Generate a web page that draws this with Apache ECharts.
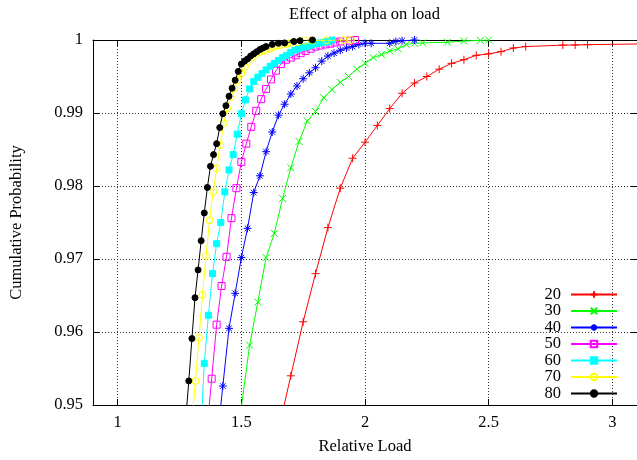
<!DOCTYPE html>
<html><head><meta charset="utf-8">
<script src="https://cdn.jsdelivr.net/npm/echarts@6/dist/echarts.min.js"></script>
<style>html,body{margin:0;padding:0;background:#fff}#c{width:637px;height:460px}</style>
</head><body><div id="c"></div>
<script>
// ---- data ----
const seriesNames = ['20', '30', '40', '50', '60', '70', '80'];

const alpha20 = [[1.65,0.9466],[1.70,0.9540],[1.75,0.9614],[1.80,0.9680],[1.85,0.9743],[1.90,0.9797],[1.95,0.9838],[2.00,0.9860],[2.05,0.9883],[2.10,0.9906],[2.15,0.9927],[2.20,0.9941],[2.25,0.9950],[2.30,0.9960],[2.35,0.9968],[2.40,0.9973],[2.45,0.9979],[2.50,0.9981],[2.55,0.9984],[2.60,0.9989],[2.65,0.9991],[2.80,0.9993],[2.85,0.99932],[2.90,0.99936],[3.30,0.99955]];

const alpha30 = [[1.5000,0.9497],[1.5333,0.9582],[1.5667,0.9641],[1.6000,0.9702],[1.6333,0.9735],[1.6667,0.9783],[1.7000,0.9825],[1.7333,0.9861],[1.7667,0.9889],[1.8000,0.9902],[1.8333,0.9921],[1.8667,0.9932],[1.9000,0.9942],[1.9333,0.9950],[1.9667,0.9960],[2.0000,0.9968],[2.0333,0.9976],[2.0667,0.9980],[2.1000,0.9985],[2.1333,0.9988],[2.1667,0.9994],[2.2000,0.99955],[2.2333,0.9996],[2.3333,0.99969],[2.4000,0.99986],[2.4667,0.99995],[2.5000,1.0]];

const alpha40 = [[1.400,0.9444],[1.425,0.9526],[1.450,0.9605],[1.475,0.9653],[1.500,0.9702],[1.525,0.9742],[1.550,0.9791],[1.575,0.9814],[1.600,0.9847],[1.625,0.9874],[1.650,0.9897],[1.675,0.9912],[1.700,0.9926],[1.725,0.9937],[1.750,0.9947],[1.775,0.9955],[1.800,0.9962],[1.825,0.9971],[1.850,0.9978],[1.875,0.9982],[1.900,0.9986],[1.925,0.9989],[1.950,0.9991],[1.975,0.9994],[2.000,0.99955],[2.025,0.99955],[2.100,0.99955],[2.125,0.9998],[2.150,0.9999],[2.200,1.0]];

const alpha50 = [[1.36,0.9462],[1.38,0.9536],[1.40,0.9610],[1.42,0.9663],[1.44,0.9703],[1.46,0.9756],[1.48,0.9797],[1.50,0.9833],[1.52,0.9858],[1.54,0.9881],[1.56,0.9903],[1.58,0.9919],[1.60,0.9933],[1.62,0.9946],[1.64,0.9958],[1.66,0.9967],[1.68,0.9973],[1.70,0.9976],[1.72,0.9979],[1.74,0.9982],[1.76,0.9985],[1.78,0.9988],[1.80,0.9991],[1.82,0.99925],[1.84,0.9994],[1.86,0.9995],[1.88,0.99965],[1.90,0.9998],[1.94,0.9999],[1.96,1.0]];

const alpha60 = [[1.3333,0.9443],[1.3500,0.9557],[1.3667,0.9623],[1.3833,0.9680],[1.4000,0.9721],[1.4167,0.9750],[1.4333,0.9792],[1.4500,0.9822],[1.4667,0.9843],[1.4833,0.9871],[1.5000,0.9899],[1.5167,0.9918],[1.5333,0.9933],[1.5500,0.9943],[1.5667,0.9949],[1.5833,0.9954],[1.6000,0.9959],[1.6167,0.9964],[1.6333,0.9968],[1.6500,0.9972],[1.6667,0.9976],[1.6833,0.9979],[1.7000,0.9983],[1.7167,0.9986],[1.7333,0.99885],[1.7500,0.9990],[1.7667,0.99915],[1.7833,0.9993],[1.8000,0.9995],[1.8167,0.9996],[1.8333,0.9997],[1.8500,0.9998],[1.8667,1.0]];

const alpha70 = [[1.3000,0.9477],[1.3143,0.9533],[1.3286,0.9592],[1.3429,0.9651],[1.3571,0.9704],[1.3714,0.9753],[1.3857,0.9792],[1.4000,0.9824],[1.4143,0.9856],[1.4286,0.9886],[1.4429,0.9906],[1.4571,0.9922],[1.4714,0.9934],[1.4857,0.9945],[1.5000,0.9954],[1.5143,0.9963],[1.5286,0.9971],[1.5429,0.9976],[1.5571,0.9980],[1.5714,0.9983],[1.5857,0.9985],[1.6000,0.9987],[1.6143,0.9988],[1.6286,0.9990],[1.6429,0.9992],[1.6571,0.9993],[1.6714,0.9994],[1.6857,0.9995],[1.7000,0.9996],[1.7286,0.9997],[1.7571,0.9999],[1.7857,0.99995],[1.8429,0.99997],[1.9143,1.0],[1.9429,1.0]];

const alpha80 = [[1.2750,0.9481],[1.2875,0.9533],[1.3000,0.9591],[1.3125,0.9647],[1.3250,0.9685],[1.3375,0.9725],[1.3500,0.9763],[1.3625,0.9798],[1.3750,0.9827],[1.3875,0.9843],[1.4000,0.9858],[1.4125,0.9880],[1.4250,0.9899],[1.4375,0.9910],[1.4500,0.9923],[1.4625,0.9934],[1.4750,0.9945],[1.4875,0.9957],[1.5000,0.9967],[1.5125,0.9971],[1.5250,0.9974],[1.5375,0.9978],[1.5500,0.9981],[1.5625,0.9984],[1.5750,0.9987],[1.5875,0.9989],[1.6000,0.9991],[1.6250,0.9994],[1.6500,0.99955],[1.6750,0.9996],[1.7125,0.9998],[1.7375,0.9999],[1.7875,1.0]];

const seriesData = [alpha20, alpha30, alpha40, alpha50, alpha60, alpha70, alpha80];

// axis ranges
const xRange = [0.9, 3.1];
const yRange = [0.95, 1.0];
const yStep = 0.01;

// ---- styles ----
const FONT = '"Liberation Serif", "Times New Roman", serif';
const FS = 16.5;
const colors = ['#ff0000', '#00ff00', '#0000ff', '#ff00ff', '#00ffff', '#ffff00', '#000000'];
const PLUS = 'path://M0,5L10,5M5,0L5,10';
const CROSS = 'path://M0,0L10,10M10,0L0,10';
const STAR = 'path://M0,5L10,5M5,0L5,10M1.5,1.5L8.5,8.5M8.5,1.5L1.5,8.5';
const TRANSP = 'rgba(0,0,0,0)';
const markers = [
  {symbol: PLUS, size: 8, fill: null},
  {symbol: CROSS, size: 7, fill: null},
  {symbol: STAR, size: 8, fill: null},
  {symbol: 'rect', size: 7, fill: TRANSP},
  {symbol: 'rect', size: 6, fill: 'self'},
  {symbol: 'circle', size: 7, fill: TRANSP},
  {symbol: 'circle', size: 6, fill: 'self'}
];

const series = seriesNames.map((name, i) => {
  const m = markers[i];
  const c = colors[i];
  return {
    name: name,
    type: 'line',
    data: seriesData[i],
    clip: true,
    symbol: m.symbol,
    symbolSize: m.size,
    lineStyle: {color: c, width: 1},
    itemStyle: {
      color: m.fill === 'self' ? c : (m.fill === null ? c : m.fill),
      borderColor: c,
      borderWidth: 1
    },
    emphasis: {disabled: true},
    z: 2 + i
  };
});

const axisText = {fontFamily: FONT, fontSize: FS, color: '#000'};
const gridLine = {show: true, lineStyle: {color: '#333', width: 1, type: [1, 2]}};

const option = {
  animation: false,
  backgroundColor: '#fff',
  title: {
    text: 'Effect of alpha on load',
    left: 289, top: 6, padding: 0,
    textStyle: {fontFamily: FONT, fontSize: FS, fontWeight: 'normal', color: '#000'}
  },
  grid: {left: 93, right: -1, top: 40, bottom: 53, show: false},
  xAxis: [{
    type: 'value', min: xRange[0], max: xRange[1], splitNumber: 5,
    name: 'Relative Load', nameLocation: 'middle', nameGap: 33,
    nameTextStyle: axisText,
    axisLine: {onZero: false, lineStyle: {color: '#000', width: 1}},
    axisTick: {inside: true, length: 6, lineStyle: {color: '#000'}},
    axisLabel: Object.assign({margin: 9, showMinLabel: false, showMaxLabel: false}, axisText),
    splitLine: gridLine
  }, {
    type: 'value', position: 'top', min: xRange[0], max: xRange[1], splitNumber: 5,
    axisLine: {show: true, onZero: false, lineStyle: {color: '#000', width: 1}},
    axisTick: {inside: true, length: 6, lineStyle: {color: '#000'}},
    axisLabel: {show: false}, splitLine: {show: false}
  }],
  yAxis: [{
    type: 'value', min: yRange[0], max: yRange[1], interval: yStep,
    name: 'Cumulative Probability', nameLocation: 'middle', nameGap: 68, nameRotate: 90,
    nameTextStyle: axisText,
    axisLine: {show: true, onZero: false, lineStyle: {color: '#000', width: 1}},
    axisTick: {show: true, inside: true, length: 6, lineStyle: {color: '#000'}},
    axisLabel: Object.assign({margin: 10}, axisText),
    splitLine: gridLine
  }, {
    type: 'value', position: 'right', min: yRange[0], max: yRange[1], interval: yStep,
    axisLine: {show: true, onZero: false, lineStyle: {color: '#000', width: 1}},
    axisTick: {show: true, inside: true, length: 6, lineStyle: {color: '#000'}},
    axisLabel: {show: false}, splitLine: {show: false}
  }],
  legend: {
    data: seriesNames,
    orient: 'vertical', right: 19, top: 286, align: 'right',
    itemWidth: 46, itemHeight: 8, itemGap: -0.5, padding: 0,
    selectedMode: false,
    textStyle: {fontFamily: FONT, fontSize: FS, color: '#000', lineHeight: 16.3, padding: [0, 5, 0, 0]}
  },
  series: series
};

const chart = echarts.init(document.getElementById('c'), null, {renderer: 'canvas'});
chart.setOption(option);
</script>
</body></html>
